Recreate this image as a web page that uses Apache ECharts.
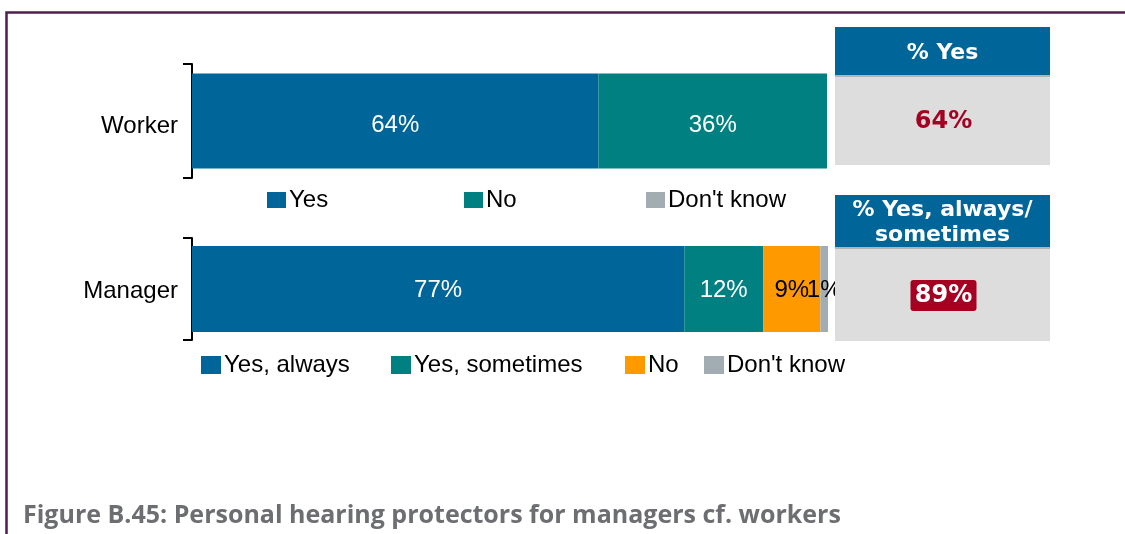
<!DOCTYPE html>
<html>
<head>
<meta charset="utf-8">
<script src="https://cdn.jsdelivr.net/npm/echarts@6/dist/echarts.min.js"></script>
<style>
html,body{margin:0;padding:0;background:#fff;}
#c{width:1125px;height:534px;}
</style>
</head>
<body>
<div id="c"></div>
<script>
// ---- data ----
const categories = ['Worker', 'Manager'];
const workerSeriesNames = ['Yes', 'No', "Don't know"];
const workerValues = [64, 36, 0];
const managerSeriesNames = ['Yes, always', 'Yes, sometimes', 'No', "Don't know"];
const managerValues = [77.4, 12.4, 9.0, 1.2];
const summaryTitles = ['% Yes', '% Yes, always/\nsometimes'];
const summaryValues = [64, 89];
const figureTitle = 'Figure B.45: Personal hearing protectors for managers cf. workers';

// ---- styles ----
const BLUE = '#006699', TEAL = '#008080', ORANGE = '#FF9900', GREY = '#A2ACB3', RED = '#A50021';
const workerColors = [BLUE, TEAL, GREY];
const managerColors = [BLUE, TEAL, ORANGE, GREY];
const workerLabelColors = ['#fff', '#fff', '#000'];
const managerLabelColors = ['#fff', '#fff', '#000', '#000'];
const FONT = '"Liberation Sans", Arial, sans-serif';
const FS = 24;

const displayName = {};
workerSeriesNames.forEach((n, i) => displayName['w' + i] = n);
managerSeriesNames.forEach((n, i) => displayName['m' + i] = n);

function makeSeries(prefix, names, values, colors, labelColors, axisIdx, barWidth, dy) {
  return names.map((n, i) => ({
    name: prefix + i,
    type: 'bar',
    stack: prefix,
    xAxisIndex: axisIdx,
    yAxisIndex: axisIdx,
    barWidth: barWidth,
    data: [values[i]],
    itemStyle: { color: colors[i] },
    label: {
      show: values[i] > 0,
      position: 'inside',
      offset: [0, dy],
      formatter: p => Math.round(p.value) + '%',
      color: labelColors[i],
      fontFamily: FONT,
      fontSize: FS
    },
    emphasis: { disabled: true },
    silent: true
  }));
}

const series = [
  ...makeSeries('w', workerSeriesNames, workerValues, workerColors, workerLabelColors, 0, 95, 4),
  ...makeSeries('m', managerSeriesNames, managerValues, managerColors, managerLabelColors, 1, 86, 1)
];

const workerLegendX = [267, 464, 646];
const managerLegendX = [201, 391, 625, 704];
const legends = [];
workerSeriesNames.forEach((n, i) => legends.push({
  data: ['w' + i], left: workerLegendX[i], top: 188, itemWidth: 19, itemHeight: 16
}));
managerSeriesNames.forEach((n, i) => legends.push({
  data: ['m' + i], left: managerLegendX[i], top: 353, itemWidth: 20, itemHeight: 18
}));
legends.forEach(l => {
  l.icon = 'rect';
  l.selectedMode = false;
  l.padding = 0;
  l.formatter = name => displayName[name];
  l.textStyle = { fontFamily: FONT, fontSize: FS, color: '#000', padding: [0, 0, 0, -2] };
});

function yAxisFor(idx, pad) {
  return {
    type: 'category',
    gridIndex: idx,
    data: [categories[idx]],
    axisLine: { show: true, lineStyle: { color: '#000', width: 2 } },
    axisTick: { show: true, length: 9, lineStyle: { color: '#000', width: 2 } },
    axisLabel: {
      margin: 14,
      formatter: v => '{a|' + v + '}',
      rich: { a: { fontFamily: FONT, fontSize: FS, color: '#000', padding: [pad, 0, 0, 0] } }
    }
  };
}
function xAxisFor(idx) {
  return { type: 'value', gridIndex: idx, min: 0, max: 100, show: false };
}

function panel(y, h, hh, title, value, boxed) {
  const x = 835, w = 215;
  const els = [
    { type: 'rect', z: 100, shape: { x: x, y: y, width: w, height: hh }, style: { fill: BLUE } },
    { type: 'rect', z: 100, shape: { x: x, y: y + hh, width: w, height: 2 }, style: { fill: '#B3B3B3' } },
    { type: 'rect', z: 100, shape: { x: x, y: y + hh + 2, width: w, height: h - hh - 2 }, style: { fill: '#DDDDDD' } },
    { type: 'text', z: 101, x: x + w / 2, y: y + hh / 2 + 2,
      style: { text: title, fill: '#fff', font: 'bold 22px "DejaVu Sans", Verdana, sans-serif',
               align: 'center', verticalAlign: 'middle', lineHeight: 25 } }
  ];
  const cy = y + hh + 2 + (h - hh - 2) / 2;
  if (boxed) {
    els.push({ type: 'rect', z: 100, shape: { x: x + w / 2 - 32, y: cy - 15, width: 66, height: 31, r: 3 }, style: { fill: RED } });
  }
  els.push({ type: 'text', z: 101, x: x + w / 2 + 1, y: cy + 1,
    style: { text: value + '%', fill: boxed ? '#fff' : RED, font: 'bold 24px "DejaVu Sans", Verdana, sans-serif',
             align: 'center', verticalAlign: 'middle' } });
  return els;
}

const option = {
  animation: false,
  grid: [
    { left: 192, top: 64, width: 635, height: 114 },
    { left: 192, top: 238, width: 636, height: 102 }
  ],
  xAxis: [xAxisFor(0), xAxisFor(1)],
  yAxis: [yAxisFor(0, 10), yAxisFor(1, 4)],
  legend: legends,
  series: series,
  graphic: [
    { type: 'rect', z: 102, shape: { x: 6.5, y: 12.5, width: 1300, height: 700 },
      style: { fill: 'none', stroke: '#4F1F52', lineWidth: 2.5 } },
    ...panel(27, 138, 48, summaryTitles[0], summaryValues[0], false),
    ...panel(195, 146, 52, summaryTitles[1], summaryValues[1], true),
    { type: 'text', z: 101, x: 23, y: 516,
      style: { text: figureTitle, fill: '#6D6E71', font: 'bold 25px "Open Sans", sans-serif',
               align: 'left', verticalAlign: 'middle' } }
  ]
};

const chart = echarts.init(document.getElementById('c'), null, { renderer: 'canvas' });
chart.setOption(option);
</script>
</body>
</html>
